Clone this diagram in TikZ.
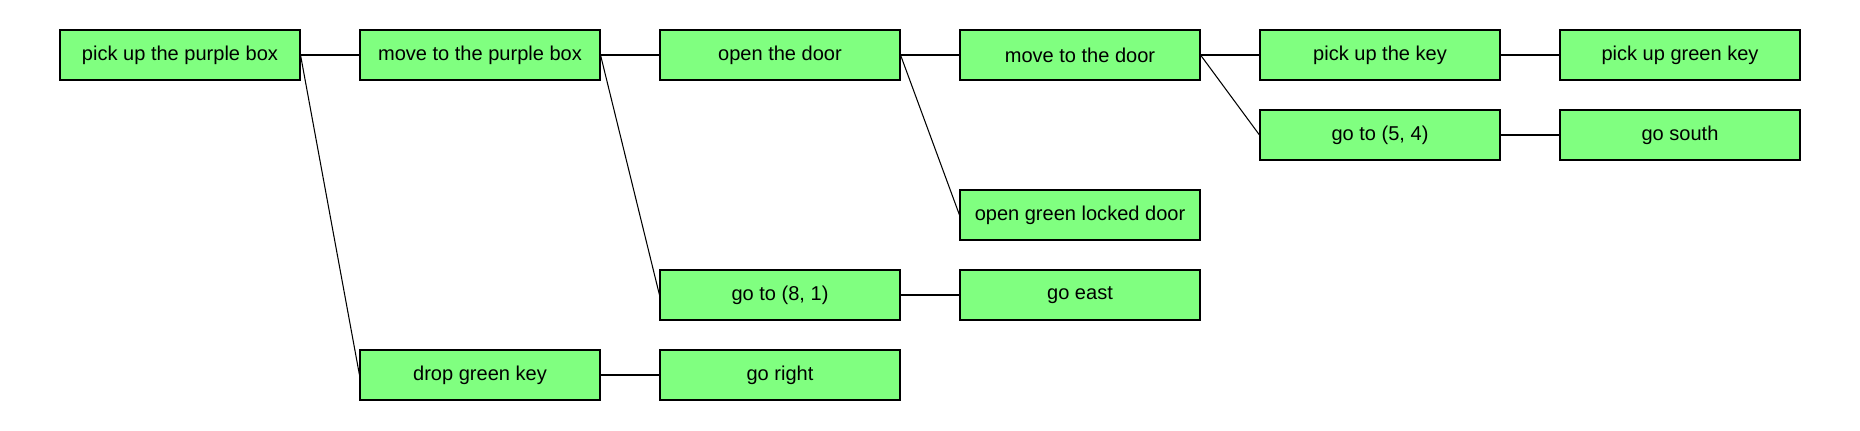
\documentclass[tikz,border=0pt]{standalone}
\usepackage{fontspec}
\setmainfont{Liberation Sans}
\definecolor{taskgreen}{RGB}{128,255,128}
\tikzset{
    task/.style={draw=black,line width=0.6pt,fill=taskgreen,minimum width=4.8cm,minimum height=1cm,inner sep=0pt,font=\fontsize{11.4}{13.7}\selectfont},
    link/.style={line width=0.6pt}
}
\begin{document}
\begin{tikzpicture}[scale=1]
            \useasboundingbox (0,0) rectangle (37.2,8.6);
            \node[task] (pickbox) at (3.6,7.5) {pick up the purple box};
            \node[task] (movebox) at (9.6,7.5) {move to the purple box};
            \node[task] (opendoor) at (15.6,7.5) {open the door};
            \node[task] (movedoor) at (21.6,7.5) {move to the door};
            \node[task] (pickkey) at (27.6,7.5) {pick up the key};
            \node[task] (pickgreen) at (33.6,7.5) {pick up green key};
            \node[task] (gofive) at (27.6,5.9) {go to (5, 4)};
            \node[task] (gosouth) at (33.6,5.9) {go south};
            \node[task] (openlocked) at (21.6,4.3) {open green locked door};
            \node[task] (goeight) at (15.6,2.7) {go to (8, 1)};
            \node[task] (goeast) at (21.6,2.7) {go east};
            \node[task] (dropkey) at (9.6,1.1) {drop green key};
            \node[task] (goright) at (15.6,1.1) {go right};
            \foreach \a/\b in {pickbox/movebox,pickbox/dropkey,movebox/opendoor,movebox/goeight,
                opendoor/movedoor,opendoor/openlocked,movedoor/pickkey,movedoor/gofive,
                pickkey/pickgreen,gofive/gosouth,goeight/goeast,dropkey/goright}
            {
                \draw[link] (\a.east) -- (\b.west);
            }
        \end{tikzpicture}
\end{document}
